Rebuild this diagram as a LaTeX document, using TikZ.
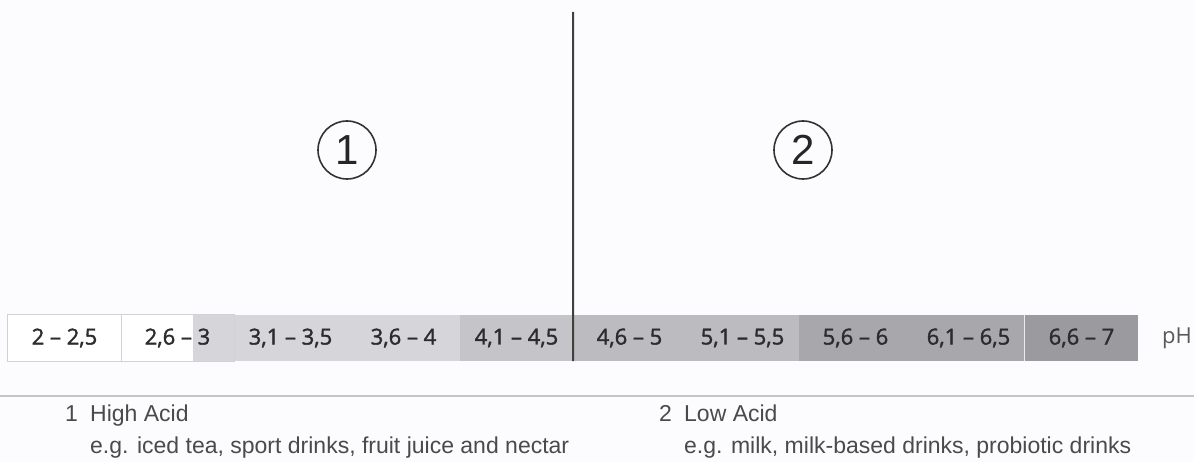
\documentclass[tikz,border=0pt]{standalone}
\usepackage{fontspec}
\setmainfont{Liberation Sans}
\newfontfamily\barfont[FakeBold=1.6]{Open Sans}
\newfontfamily\phfont{Open Sans}
\definecolor{bg}{HTML}{FCFCFE}
\definecolor{gA}{HTML}{D6D6DA}
\definecolor{gB}{HTML}{C5C5C9}
\definecolor{gC}{HTML}{BCBCC0}
\definecolor{gD}{HTML}{A8A8AC}
\definecolor{gE}{HTML}{9B9B9F}
\definecolor{cellline}{HTML}{D2D2D4}
\definecolor{bartext}{HTML}{2C2C2E}
\definecolor{foot}{HTML}{4A4A4C}
\definecolor{sepline}{HTML}{C4C4C6}
\begin{document}
\begin{tikzpicture}[x=1pt,y=-1pt,
  cell/.style={draw=none,minimum width=113pt,minimum height=46pt,inner sep=0pt,
    font=\barfont\fontsize{22}{24}\selectfont,text=bartext},
  circ/.style={circle,draw=black!80,line width=1.6pt,minimum size=58pt,inner sep=0pt,
    font=\fontsize{42}{44}\selectfont,text=black!85},
  divider/.style={draw=black!75,line width=2pt},
  foottext/.style={font=\fontsize{23}{32}\selectfont,text=foot,inner sep=0pt},
]
\fill[bg] (0,0) rectangle (1194,462);
\useasboundingbox (0,0) rectangle (1194,462);
% bar cells
\node[cell,fill=white] (c1) at (64.5,338) {};
\node[cell,fill=white] (c2) at (177.5,338) {};
\fill[gA] (193,315) rectangle (234,361);
\node[cell,fill=gA] (c3) at (290.5,338) {};
\node[cell,fill=gA] (c4) at (403.5,338) {};
\node[cell,fill=gB] (c5) at (516.5,338) {};
\node[cell,fill=gC] (c6) at (629.5,338) {};
\node[cell,fill=gC] (c7) at (742.5,338) {};
\node[cell,fill=gD] (c8) at (855.5,338) {};
\node[cell,fill=gD] (c9) at (968.5,338) {};
\node[cell,fill=gE] (c10) at (1081.5,338) {};
\draw[cellline,line width=0.8pt] (c1.north west) rectangle (c2.south east);
\draw[cellline,line width=0.8pt] (c1.north east) -- (c1.south east);
\draw[white!80!gE,line width=0.8pt] (c10.north west) -- (c10.south west);
% labels
\foreach \i/\t in {1/{2 – 2,5},2/{2,6 – 3},3/{3,1 – 3,5},4/{3,6 – 4},5/{4,1 – 4,5},
  6/{4,6 – 5},7/{5,1 – 5,5},8/{5,6 – 6},9/{6,1 – 6,5},10/{6,6 – 7}}
  \node[cell] (l\i) at (c\i) {\t};
\node[font=\phfont\fontsize{22}{24}\selectfont,text=black!65,inner sep=0pt] (ph) at (1177,338) {pH};
% divider
\coordinate (ltop) at (573,12);
\draw[divider] (ltop) -- (c5.south east);
% circles
\node[circ] (n1) at (347,150) {1};
\node[circ] (n2) at (803,150) {2};
% separator
\coordinate (sepL) at (0,396);
\coordinate (sepR) at (1194,396);
\draw[sepline,line width=1.2pt] (sepL) -- (sepR);
% footer
\node[foottext,anchor=base west] (h1) at (90,421) {High Acid};
\node[foottext,anchor=base east] (k1) at (78,421) {1};
\node[foottext,anchor=base west] (e1) at (90,453) {e.g. iced tea, sport drinks, fruit juice and nectar};
\node[foottext,anchor=base west] (h2) at (684,421) {Low Acid};
\node[foottext,anchor=base east] (k2) at (672,421) {2};
\node[foottext,anchor=base west] (e2) at (684,453) {e.g. milk, milk-based drinks, probiotic drinks};
\end{tikzpicture}
\end{document}
